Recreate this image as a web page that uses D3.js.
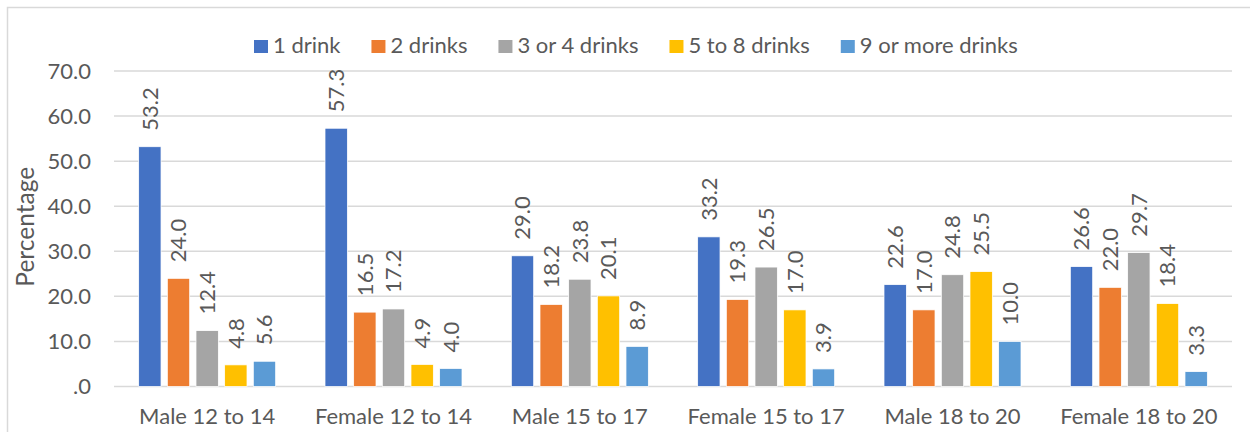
<!DOCTYPE html>
<html>
<head>
<meta charset="utf-8">
<script src="https://cdn.jsdelivr.net/npm/d3@7"></script>
<style>
  body { margin: 0; background: #fff; }
  svg text { font-family: Lato, "Open Sans", sans-serif; fill: #595959; }
</style>
</head>
<body>
<div id="chart"></div>
<script>
var categories = ["Male 12 to 14", "Female 12 to 14", "Male 15 to 17", "Female 15 to 17", "Male 18 to 20", "Female 18 to 20"];
var seriesNames = ["1 drink", "2 drinks", "3 or 4 drinks", "5 to 8 drinks", "9 or more drinks"];
var colors = ["#4472C4", "#ED7D31", "#A5A5A5", "#FFC000", "#5B9BD5"];

var oneDrink = [53.2, 57.3, 29.0, 33.2, 22.6, 26.6];
var twoDrinks = [24.0, 16.5, 18.2, 19.3, 17.0, 22.0];
var threeOrFour = [12.4, 17.2, 23.8, 26.5, 24.8, 29.7];
var fiveToEight = [4.8, 4.9, 20.1, 17.0, 25.5, 18.4];
var ninePlus = [5.6, 4.0, 8.9, 3.9, 10.0, 3.3];
var yTicks = [0, 10, 20, 30, 40, 50, 60, 70];

var series = [oneDrink, twoDrinks, threeOrFour, fiveToEight, ninePlus];

var width = 1250, height = 432;
var plotL = 114, plotR = 1232, plotT = 71, plotB = 386.5;
var fs = 22;

var svg = d3.select("#chart").append("svg")
  .attr("width", width)
  .attr("height", height);

// outer border
svg.append("rect")
  .attr("x", 7.5).attr("y", 7.5)
  .attr("width", 1270).attr("height", 450)
  .attr("fill", "none")
  .attr("stroke", "#d9d9d9")
  .attr("stroke-width", 1.5);

var y = d3.scaleLinear().domain([0, 70]).range([plotB, plotT]);
var x0 = d3.scaleBand().domain(categories).range([plotL, plotR]);
var groupW = x0.bandwidth();
var x1 = d3.scaleBand().domain(d3.range(series.length))
  .range([groupW / 2 - 68.5, groupW / 2 + 68.5])
  .paddingInner(0.22).paddingOuter(0);

// gridlines
svg.append("g").selectAll("line")
  .data(yTicks)
  .join("line")
  .attr("x1", plotL).attr("x2", plotR)
  .attr("y1", d => y(d)).attr("y2", d => y(d))
  .attr("stroke", "#d9d9d9")
  .attr("stroke-width", 1.5);

// y tick labels
svg.append("g").selectAll("text")
  .data(yTicks)
  .join("text")
  .attr("x", 91)
  .attr("y", d => y(d))
  .attr("dy", "0.36em")
  .attr("text-anchor", "end")
  .style("font-size", fs + "px")
  .text(d => d === 0 ? ".0" : d.toFixed(1));

// y title
svg.append("text")
  .attr("transform", "translate(34," + ((plotT + plotB) / 2 - 2) + ") rotate(-90)")
  .attr("text-anchor", "middle")
  .style("font-size", "24.5px")
  .text("Percentage");

// bars
var groups = svg.append("g").selectAll("g")
  .data(categories)
  .join("g")
  .attr("transform", d => "translate(" + x0(d) + ",0)");

groups.selectAll("rect")
  .data((c, i) => series.map((s, k) => ({ k: k, v: s[i] })))
  .join("rect")
  .attr("x", d => x1(d.k))
  .attr("y", d => y(d.v))
  .attr("width", x1.bandwidth())
  .attr("height", d => plotB - y(d.v))
  .attr("fill", d => colors[d.k])
  .attr("stroke", "#fff")
  .attr("stroke-width", 0.75);

groups.selectAll("text.lbl")
  .data((c, i) => series.map((s, k) => ({ k: k, v: s[i] })))
  .join("text")
  .attr("class", "lbl")
  .attr("transform", d => "translate(" + (x1(d.k) + x1.bandwidth() / 2) + "," + (y(d.v) - 16) + ") rotate(-90)")
  .attr("dy", "0.36em")
  .style("font-size", fs + "px")
  .text(d => d.v.toFixed(1));

// category labels
svg.append("g").selectAll("text")
  .data(categories)
  .join("text")
  .attr("x", d => x0(d) + groupW / 2)
  .attr("y", 424)
  .attr("text-anchor", "middle")
  .style("font-size", fs + "px")
  .text(d => d);

// legend
var legend = svg.append("g");
var lx = 254;
seriesNames.forEach(function (name, k) {
  legend.append("rect")
    .attr("x", lx).attr("y", 40)
    .attr("width", 14).attr("height", 13)
    .attr("fill", colors[k]);
  var t = legend.append("text")
    .attr("x", lx + 19)
    .attr("y", 53)
    .style("font-size", fs + "px")
    .text(name);
  lx += 19 + t.node().getComputedTextLength() + 31;
});
</script>
</body>
</html>
